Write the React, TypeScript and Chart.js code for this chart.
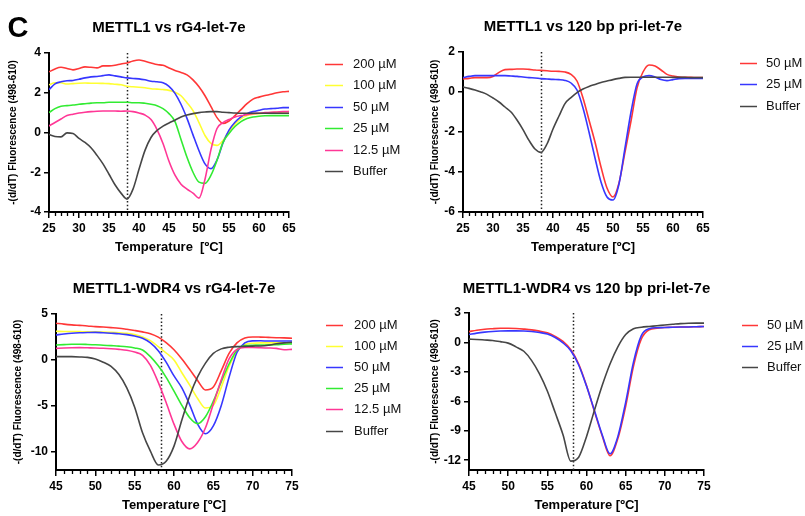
import React, { useEffect, useRef } from 'react';
import { Chart, registerables } from 'chart.js';

Chart.register(...registerables);

const FONT = '"Liberation Sans", Arial, Helvetica, sans-serif';

// ---------- categories (temperature, °C) ----------
const tempsA = [25, 26, 27, 28, 29, 30, 31, 32, 33, 34, 35, 36, 37, 38, 39, 40, 41, 42, 43, 44, 45, 46, 47, 48, 49, 50, 51, 52, 53, 54, 55, 56, 57, 58, 59, 60, 61, 62, 63, 64, 65];
const tempsB = [45, 46, 47, 48, 49, 50, 51, 52, 53, 54, 55, 56, 57, 58, 59, 60, 61, 62, 63, 64, 65, 66, 67, 68, 69, 70, 71, 72, 73, 74, 75];

// ---------- tick labels ----------
const xTicksA = [25, 30, 35, 40, 45, 50, 55, 60, 65];
const xTicksB = [45, 50, 55, 60, 65, 70, 75];
const yTicks1 = [-4, -2, 0, 2, 4];
const yTicks2 = [-6, -4, -2, 0, 2];
const yTicks3 = [-10, -5, 0, 5];
const yTicks4 = [-12, -9, -6, -3, 0, 3];

// ---------- legend labels ----------
const labels6 = ['200 µM', '100 µM', '50 µM', '25 µM', '12.5 µM', 'Buffer'];
const labels3 = ['50 µM', '25 µM', 'Buffer'];

// ---------- reference lines (Tm of buffer) ----------
const tmA = 38;
const tmB = 58.3;

// ---------- Panel 1: METTL1 vs rG4-let-7e ----------
const p1_200 = [3.05, 3.2, 3.28, 3.22, 3.15, 3.22, 3.3, 3.28, 3.25, 3.35, 3.35, 3.38, 3.45, 3.5, 3.6, 3.65, 3.58, 3.5, 3.42, 3.38, 3.25, 3.12, 3.02, 2.9, 2.65, 2.3, 1.85, 1.3, 0.75, 0.45, 0.58, 0.85, 1.15, 1.45, 1.68, 1.78, 1.86, 1.92, 2.0, 2.05, 2.07];
const p1_100 = [2.4, 2.5, 2.5, 2.44, 2.46, 2.48, 2.49, 2.48, 2.48, 2.47, 2.46, 2.43, 2.4, 2.33, 2.3, 2.28, 2.25, 2.2, 2.18, 2.16, 2.12, 2.03, 1.85, 1.5, 1.1, 0.5, -0.15, -0.55, -0.65, -0.4, 0.05, 0.42, 0.7, 0.86, 0.92, 0.95, 0.98, 1.0, 1.02, 1.04, 1.05];
const p1_50 = [2.15, 2.45, 2.55, 2.6, 2.62, 2.68, 2.75, 2.8, 2.82, 2.86, 2.9, 2.85, 2.8, 2.75, 2.72, 2.7, 2.65, 2.58, 2.55, 2.5, 2.32, 1.97, 1.42, 0.71, -0.12, -0.92, -1.58, -1.82, -1.38, -0.52, 0.12, 0.52, 0.79, 0.95, 1.05, 1.12, 1.18, 1.2, 1.22, 1.25, 1.25];
const p1_25 = [1.0, 1.2, 1.32, 1.35, 1.38, 1.42, 1.45, 1.48, 1.5, 1.5, 1.52, 1.52, 1.52, 1.52, 1.5, 1.5, 1.47, 1.42, 1.35, 1.2, 0.95, 0.55, -0.35, -1.25, -2.0, -2.5, -2.56, -2.15, -1.4, -0.5, -0.05, 0.3, 0.55, 0.7, 0.78, 0.82, 0.84, 0.85, 0.85, 0.85, 0.85];
const p1_12 = [0.33, 0.5, 0.68, 0.85, 0.92, 0.98, 1.02, 1.05, 1.07, 1.08, 1.08, 1.08, 1.07, 1.08, 1.05, 0.98, 0.88, 0.65, 0.15, -0.55, -1.45, -2.15, -2.6, -2.85, -3.05, -3.3, -2.35, -0.85, 0.2, 0.5, 0.65, 0.78, 0.85, 0.9, 0.95, 0.97, 1.0, 1.02, 1.03, 1.05, 1.05];
const p1_buf = [-0.1, -0.2, -0.22, -0.02, -0.05, -0.3, -0.5, -0.77, -1.15, -1.58, -2.1, -2.63, -3.05, -3.35, -2.85, -1.85, -0.9, -0.25, 0.1, 0.32, 0.48, 0.62, 0.78, 0.88, 0.95, 1.0, 1.03, 1.05, 1.05, 1.02, 1.0, 0.98, 0.97, 0.97, 0.97, 0.97, 0.97, 0.97, 0.97, 0.97, 0.97];

// ---------- Panel 2: METTL1 vs 120 bp pri-let-7e ----------
const p2_50 = [0.65, 0.68, 0.72, 0.72, 0.72, 0.78, 0.98, 1.12, 1.13, 1.15, 1.15, 1.13, 1.1, 1.08, 1.06, 1.04, 1.03, 1.0, 0.88, 0.55, -0.3, -1.4, -2.5, -3.75, -4.8, -5.25, -4.55, -3.0, -1.45, 0.2, 1.0, 1.35, 1.3, 1.1, 0.88, 0.8, 0.75, 0.73, 0.73, 0.72, 0.72];
const p2_25 = [0.72, 0.78, 0.82, 0.82, 0.82, 0.82, 0.82, 0.82, 0.8, 0.78, 0.75, 0.72, 0.7, 0.67, 0.65, 0.63, 0.62, 0.58, 0.45, 0.1, -0.8, -2.0, -3.3, -4.5, -5.25, -5.4, -4.6, -2.8, -1.0, 0.4, 0.75, 0.82, 0.75, 0.62, 0.57, 0.62, 0.67, 0.68, 0.68, 0.68, 0.68];
const p2_buf = [0.25, 0.18, 0.1, 0.0, -0.12, -0.3, -0.5, -0.75, -1.0, -1.4, -1.88, -2.42, -2.85, -3.02, -2.6, -1.85, -1.2, -0.58, -0.28, -0.03, 0.15, 0.28, 0.38, 0.48, 0.55, 0.62, 0.68, 0.73, 0.74, 0.74, 0.74, 0.74, 0.74, 0.74, 0.74, 0.73, 0.73, 0.73, 0.72, 0.72, 0.72];

// ---------- Panel 3: METTL1-WDR4 vs rG4-let-7e ----------
const p3_200 = [4.0, 3.9, 3.82, 3.76, 3.7, 3.62, 3.58, 3.52, 3.45, 3.33, 3.2, 3.05, 2.85, 2.48, 1.88, 1.1, 0.1, -1.05, -2.25, -3.28, -2.95, -1.2, 0.7, 1.85, 2.38, 2.5, 2.48, 2.45, 2.42, 2.4, 2.35];
const p3_100 = [3.12, 3.1, 3.1, 3.08, 3.06, 3.05, 3.03, 3.0, 2.95, 2.9, 2.75, 2.5, 2.1, 1.45, 0.75, 0.0, -1.4, -2.75, -4.2, -5.25, -4.95, -3.0, -0.7, 0.95, 1.65, 1.82, 1.85, 1.85, 1.85, 1.85, 1.85];
const p3_50 = [2.72, 2.82, 2.9, 2.95, 2.98, 3.0, 2.95, 2.9, 2.85, 2.75, 2.6, 2.35, 1.85, 1.0, -0.25, -1.75, -3.05, -4.9, -7.0, -8.05, -7.2, -5.0, -1.9, 0.8, 1.85, 2.07, 2.08, 2.05, 2.05, 2.05, 2.05];
const p3_25 = [1.62, 1.66, 1.7, 1.7, 1.68, 1.65, 1.6, 1.55, 1.5, 1.43, 1.3, 1.08, 0.35, -0.65, -1.9, -3.4, -4.95, -6.3, -6.95, -6.2, -4.5, -2.4, -0.45, 1.05, 1.55, 1.6, 1.62, 1.63, 1.65, 1.7, 1.74];
const p3_12 = [1.25, 1.3, 1.33, 1.34, 1.32, 1.3, 1.27, 1.22, 1.15, 1.05, 0.85, 0.5, -0.6, -2.45, -4.65, -7.0, -8.9, -9.7, -9.0, -7.4, -4.8, -2.2, 0.1, 1.15, 1.35, 1.35, 1.33, 1.3, 1.25, 1.1, 1.15];
const p3_buf = [0.36, 0.36, 0.35, 0.32, 0.27, 0.1, -0.25, -0.7, -1.6, -3.05, -5.15, -7.95, -9.95, -11.45, -11.05, -9.4, -6.55, -3.9, -1.85, -0.35, 0.7, 1.2, 1.38, 1.45, 1.47, 1.5, 1.52, 1.6, 1.75, 1.85, 1.92];

// ---------- Panel 4: METTL1-WDR4 vs 120 bp pri-let-7e ----------
const p4_50 = [1.1, 1.25, 1.35, 1.4, 1.44, 1.45, 1.42, 1.36, 1.28, 1.15, 0.98, 0.62, 0.1, -0.75, -2.2, -4.4, -7.0, -9.5, -11.55, -9.8, -6.5, -2.4, 0.35, 1.3, 1.45, 1.52, 1.55, 1.57, 1.58, 1.6, 1.62];
const p4_25 = [0.8, 0.95, 1.05, 1.12, 1.16, 1.18, 1.18, 1.17, 1.12, 1.02, 0.85, 0.5, -0.05, -0.85, -2.3, -4.45, -6.9, -9.4, -11.35, -9.6, -6.1, -2.0, 0.7, 1.4, 1.5, 1.52, 1.55, 1.57, 1.58, 1.6, 1.62];
const p4_buf = [0.34, 0.3, 0.25, 0.2, 0.08, -0.07, -0.45, -0.9, -1.85, -3.2, -4.95, -7.15, -9.4, -12.1, -11.7, -9.6, -6.95, -4.4, -2.2, -0.45, 0.8, 1.4, 1.55, 1.63, 1.7, 1.78, 1.85, 1.92, 1.96, 1.97, 1.97];

// ---------- styles ----------
const RED = 'rgb(255,55,55)';
const YELLOW = 'rgb(255,255,50)';
const BLUE = 'rgb(55,55,255)';
const GREEN = 'rgb(50,235,50)';
const PINK = 'rgb(255,55,150)';
const GREY = 'rgb(70,70,70)';
const colors6 = [RED, YELLOW, BLUE, GREEN, PINK, GREY];
const colors3 = [RED, BLUE, GREY];

const W = 805;
const H = 516;
const X_SCALE_H = 43;

type Panel = {
  title: string;
  xTitle: string;
  temps: number[];
  series: number[][];
  labels: string[];
  colors: string[];
  xTicks: number[];
  yTicks: number[];
  yMin: number;
  yMax: number;
  tm: number;
  area: { l: number; t: number; r: number; b: number };
  yLeft: number;
  titleY: number;
  legend: { x1: number; x2: number; tx: number; y0: number; dy: number };
  letter?: boolean;
};

const panels: Panel[] = [
  {
    title: 'METTL1 vs rG4-let-7e',
    xTitle: 'Temperature  [ºC]',
    temps: tempsA,
    series: [p1_200, p1_100, p1_50, p1_25, p1_12, p1_buf],
    labels: labels6,
    colors: colors6,
    xTicks: xTicksA,
    yTicks: yTicks1,
    yMin: -4,
    yMax: 4,
    tm: tmA,
    area: { l: 49, t: 53, r: 289, b: 212 },
    yLeft: 7,
    titleY: 28,
    legend: { x1: 325, x2: 343, tx: 353, y0: 63.5, dy: 21.5 },
    letter: true,
  },
  {
    title: 'METTL1 vs 120 bp pri-let-7e',
    xTitle: 'Temperature [ºC]',
    temps: tempsA,
    series: [p2_50, p2_25, p2_buf],
    labels: labels3,
    colors: colors3,
    xTicks: xTicksA,
    yTicks: yTicks2,
    yMin: -6,
    yMax: 2,
    tm: tmA,
    area: { l: 463, t: 52, r: 703, b: 212 },
    yLeft: 429,
    titleY: 27,
    legend: { x1: 740, x2: 757, tx: 766, y0: 62.5, dy: 21.7 },
  },
  {
    title: 'METTL1-WDR4 vs rG4-let-7e',
    xTitle: 'Temperature [ºC]',
    temps: tempsB,
    series: [p3_200, p3_100, p3_50, p3_25, p3_12, p3_buf],
    labels: labels6,
    colors: colors6,
    xTicks: xTicksB,
    yTicks: yTicks3,
    yMin: -12,
    yMax: 5,
    tm: tmB,
    area: { l: 56, t: 314, r: 292, b: 470 },
    yLeft: 12,
    titleY: 289,
    legend: { x1: 326, x2: 343, tx: 354, y0: 324.5, dy: 21.2 },
  },
  {
    title: 'METTL1-WDR4 vs 120 bp pri-let-7e',
    xTitle: 'Temperature [ºC]',
    temps: tempsB,
    series: [p4_50, p4_25, p4_buf],
    labels: labels3,
    colors: colors3,
    xTicks: xTicksB,
    yTicks: yTicks4,
    yMin: -13,
    yMax: 3,
    tm: tmB,
    area: { l: 469, t: 313, r: 704, b: 470 },
    yLeft: 429,
    titleY: 289,
    legend: { x1: 742, x2: 758, tx: 767, y0: 324.5, dy: 21.3 },
  },
];

function makeChart(canvas: HTMLCanvasElement, p: Panel) {
  const xMin = p.temps[0];
  const xMax = p.temps[p.temps.length - 1];

  const decor = {
    id: 'decor',
    beforeDatasetsDraw(chart: any) {
      const ctx = chart.ctx;
      const xs = chart.scales.x;
      const ca = chart.chartArea;
      // dotted Tm line
      const px = xs.getPixelForValue(p.tm);
      ctx.save();
      ctx.strokeStyle = '#222';
      ctx.lineWidth = 1.5;
      ctx.setLineDash([1.5, 2.2]);
      ctx.beginPath();
      ctx.moveTo(Math.round(px) + 0.5, ca.top);
      ctx.lineTo(Math.round(px) + 0.5, ca.bottom);
      ctx.stroke();
      ctx.restore();
    },
    afterDraw(chart: any) {
      const ctx = chart.ctx;
      const xs = chart.scales.x;
      const ca = chart.chartArea;
      ctx.save();
      // minor ticks on x-axis
      ctx.strokeStyle = '#000';
      ctx.lineWidth = 1.3;
      for (let v = Math.ceil(xMin); v <= xMax; v += 1) {
        if (p.xTicks.includes(v)) continue;
        const x = Math.round(xs.getPixelForValue(v)) + 0.5;
        ctx.beginPath();
        ctx.moveTo(x, ca.bottom);
        ctx.lineTo(x, ca.bottom + 4);
        ctx.stroke();
      }
      // title
      ctx.fillStyle = '#000';
      ctx.font = `bold 15px ${FONT}`;
      ctx.textAlign = 'center';
      ctx.textBaseline = 'middle';
      ctx.fillText(p.title, (ca.left + ca.right) / 2, p.titleY);
      // legend
      ctx.font = `13px ${FONT}`;
      ctx.textAlign = 'left';
      p.labels.forEach((lab, i) => {
        const y = p.legend.y0 + i * p.legend.dy;
        ctx.strokeStyle = p.colors[i];
        ctx.lineWidth = 1.5;
        ctx.beginPath();
        ctx.moveTo(p.legend.x1, Math.round(y) + 0.5);
        ctx.lineTo(p.legend.x2, Math.round(y) + 0.5);
        ctx.stroke();
        ctx.fillStyle = '#111';
        ctx.fillText(lab, p.legend.tx, y + 0.5);
      });
      // panel letter
      if (p.letter) {
        ctx.font = `bold 29px ${FONT}`;
        ctx.fillStyle = '#000';
        ctx.textAlign = 'left';
        ctx.textBaseline = 'alphabetic';
        ctx.fillText('C', 7.5, 37);
      }
      ctx.restore();
    },
  };

  const datasets = p.series.map((vals, i) => ({
    label: p.labels[i],
    data: p.temps.map((t, j) => ({ x: t, y: vals[j] })),
    borderColor: p.colors[i],
    backgroundColor: p.colors[i],
    borderWidth: 1.6,
    pointRadius: 0,
    fill: false,
    cubicInterpolationMode: 'monotone' as const,
    order: p.series.length - i,
  }));

  return new Chart(canvas, {
    type: 'line',
    data: { datasets },
    options: {
      animation: false,
      responsive: false,
      devicePixelRatio: 1,
      events: [],
      layout: {
        padding: {
          left: p.yLeft,
          right: W - p.area.r,
          top: p.area.t,
          bottom: H - p.area.b - X_SCALE_H,
        },
      },
      plugins: {
        legend: { display: false },
        title: { display: false },
        tooltip: { enabled: false },
      },
      scales: {
        x: {
          type: 'linear',
          min: xMin,
          max: xMax,
          afterBuildTicks: (s: any) => {
            s.ticks = p.xTicks.map((v) => ({ value: v }));
          },
          afterFit: (s: any) => {
            s.height = X_SCALE_H;
          },
          ticks: {
            autoSkip: false,
            maxRotation: 0,
            color: '#000',
            padding: 3,
            font: { family: FONT, size: 12, weight: 'bold' },
          },
          grid: {
            display: true,
            drawOnChartArea: false,
            drawTicks: true,
            tickLength: 6,
            color: '#000',
            lineWidth: 1.5,
          },
          border: { display: true, color: '#000', width: 2 },
          title: {
            display: true,
            text: p.xTitle,
            color: '#000',
            padding: 0,
            font: { family: FONT, size: 13, weight: 'bold' },
          },
        },
        y: {
          type: 'linear',
          min: p.yMin,
          max: p.yMax,
          afterBuildTicks: (s: any) => {
            s.ticks = p.yTicks.map((v) => ({ value: v }));
          },
          afterFit: (s: any) => {
            s.width = p.area.l - p.yLeft;
          },
          ticks: {
            color: '#000',
            padding: 3,
            font: { family: FONT, size: 12, weight: 'bold' },
          },
          grid: {
            display: true,
            drawOnChartArea: false,
            drawTicks: true,
            tickLength: 5,
            color: '#000',
            lineWidth: 1.5,
          },
          border: { display: true, color: '#000', width: 2 },
          title: {
            display: true,
            text: '-(d/dT) Fluorescence (498-610)',
            color: '#000',
            padding: 0,
            font: { family: FONT, size: 10, weight: 'bold' },
          },
        },
      },
    },
    plugins: [decor],
  } as any);
}

function PanelCanvas({ p }: { p: Panel }) {
  const ref = useRef<HTMLCanvasElement | null>(null);
  useEffect(() => {
    if (!ref.current) return;
    const chart = makeChart(ref.current, p);
    return () => chart.destroy();
  }, [p]);
  return (
    <canvas
      ref={ref}
      width={W}
      height={H}
      style={{ position: 'absolute', left: 0, top: 0, width: W, height: H }}
    />
  );
}

export default function App() {
  return (
    <div
      style={{
        position: 'absolute',
        left: 0,
        top: 0,
        width: W,
        height: H,
        background: '#fff',
        overflow: 'hidden',
      }}
    >
      {panels.map((p, i) => (
        <PanelCanvas key={i} p={p} />
      ))}
    </div>
  );
}
